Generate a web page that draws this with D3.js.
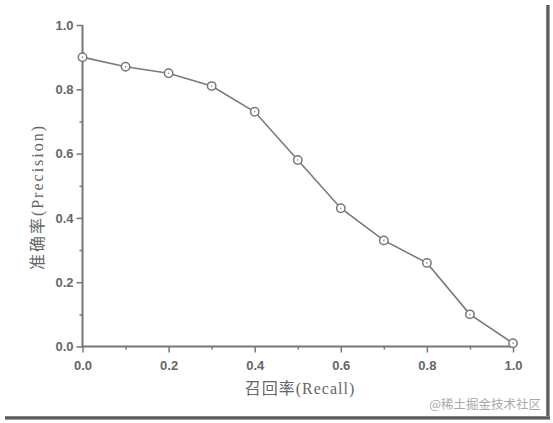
<!DOCTYPE html>
<html><head><meta charset="utf-8">
<script src="https://cdn.jsdelivr.net/npm/d3@7"></script>
<style>body{margin:0;background:#fff}svg{display:block}</style>
</head><body>
<script>
const recall = [0.0, 0.1, 0.2, 0.3, 0.4, 0.5, 0.6, 0.7, 0.8, 0.9, 1.0];
const precision = [0.90, 0.87, 0.85, 0.81, 0.73, 0.58, 0.43, 0.33, 0.26, 0.10, 0.01];
const majorTicks = [0.0, 0.2, 0.4, 0.6, 0.8, 1.0];
const minorTicks = [0.1, 0.3, 0.5, 0.7, 0.9];
const xTitle = "召回率(Recall)";
const yTitle = "准确率(Precision)";
const watermark = "@稀土掘金技术社区";

const W = 553, H = 423;
const svg = d3.select("body").append("svg").attr("width", W).attr("height", H);

// frame shadow
const defs = svg.append("defs");
const gv = defs.append("linearGradient").attr("id", "gv").attr("x1", 0).attr("x2", 1).attr("y1", 0).attr("y2", 0);
gv.append("stop").attr("offset", 0).attr("stop-color", "#999");
gv.append("stop").attr("offset", 0.5).attr("stop-color", "#444");
gv.append("stop").attr("offset", 1).attr("stop-color", "#bbb");
const gh = defs.append("linearGradient").attr("id", "gh").attr("x1", 0).attr("x2", 0).attr("y1", 0).attr("y2", 1);
gh.append("stop").attr("offset", 0).attr("stop-color", "#999");
gh.append("stop").attr("offset", 0.5).attr("stop-color", "#444");
gh.append("stop").attr("offset", 1).attr("stop-color", "#bbb");
svg.append("rect").attr("x", 546).attr("y", 5).attr("width", 4).attr("height", 413).attr("fill", "url(#gv)");
svg.append("rect").attr("x", 5).attr("y", 416).attr("width", 545).attr("height", 4).attr("fill", "url(#gh)");

const x = d3.scaleLinear().domain([0, 1]).range([82.5, 513]);
const y = d3.scaleLinear().domain([0, 1]).range([346.5, 25]);
const axisColor = "#777";
const labelColor = "#666";

// Y axis
const gy = svg.append("g").attr("transform", `translate(${x(0)},0)`);
gy.call(d3.axisLeft(y).tickValues(majorTicks).tickFormat(d3.format(".1f")).tickSize(6).tickPadding(3));
const gym = svg.append("g").attr("transform", `translate(${x(0)},0)`);
gym.call(d3.axisLeft(y).tickValues(minorTicks).tickFormat("").tickSize(3));

// X axis
const gx = svg.append("g").attr("transform", `translate(0,${y(0)})`);
gx.call(d3.axisBottom(x).tickValues(majorTicks).tickFormat(d3.format(".1f")).tickSize(6).tickPadding(8));
const gxm = svg.append("g").attr("transform", `translate(0,${y(0)})`);
gxm.call(d3.axisBottom(x).tickValues(minorTicks).tickFormat("").tickSize(3));

svg.selectAll(".domain").remove();
svg.append("line").attr("x1", x(0)).attr("x2", x(0)).attr("y1", y(1)).attr("y2", y(0) + 1)
  .attr("stroke", axisColor).attr("stroke-width", 2);
svg.append("line").attr("x1", x(0) - 1).attr("x2", x(1)).attr("y1", y(0)).attr("y2", y(0))
  .attr("stroke", axisColor).attr("stroke-width", 2);

svg.selectAll(".tick line").attr("stroke", axisColor).attr("stroke-width", 1.5);
svg.selectAll(".tick text").attr("fill", labelColor).attr("font-family", "Liberation Sans, Arial, sans-serif")
  .attr("font-size", 13).attr("font-weight", "bold");

// line
const line = d3.line().x((d, i) => x(recall[i])).y(d => y(d));
svg.append("path").datum(precision).attr("d", line).attr("fill", "none")
  .attr("stroke", "#7a7a7a").attr("stroke-width", 1.6);

const pts = svg.append("g").selectAll("g").data(precision).join("g")
  .attr("transform", (d, i) => `translate(${x(recall[i])},${y(d)})`);
pts.append("circle").attr("r", 4.2).attr("fill", "#fff").attr("stroke", "#777").attr("stroke-width", 1.5);
pts.append("circle").attr("r", 0.8).attr("fill", "#888");

// titles
svg.append("text").attr("x", 300).attr("y", 394).attr("text-anchor", "middle")
  .attr("fill", labelColor).attr("font-size", 16).attr("letter-spacing", 1)
  .attr("font-family", "Liberation Serif, Noto Sans CJK SC, serif")
  .text(xTitle);
svg.append("text").attr("transform", "translate(43,197) rotate(-90)").attr("text-anchor", "middle")
  .attr("fill", labelColor).attr("font-size", 16).attr("letter-spacing", 2)
  .attr("font-family", "Liberation Serif, Noto Sans CJK SC, serif")
  .text(yTitle);

svg.append("text").attr("x", 541).attr("y", 409).attr("text-anchor", "end")
  .attr("fill", "#aaa").attr("font-size", 12.5)
  .attr("font-family", "Noto Sans CJK SC, sans-serif")
  .text(watermark);
</script>
</body></html>
